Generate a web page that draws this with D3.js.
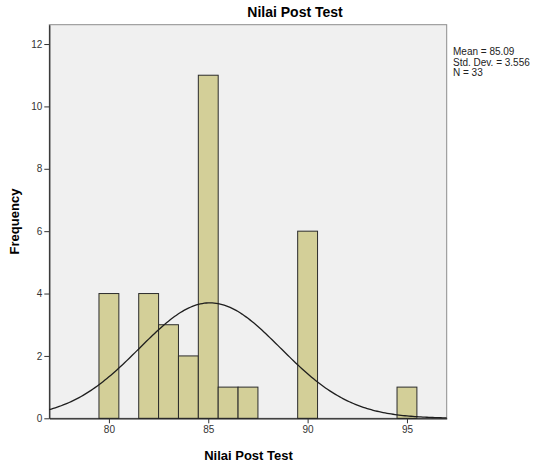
<!DOCTYPE html>
<html>
<head>
<meta charset="utf-8">
<script src="https://cdn.jsdelivr.net/npm/d3@7"></script>
<style>
  body { margin: 0; background: #fff; }
  text { font-family: Arial, "Liberation Sans", sans-serif; }
</style>
</head>
<body>
<div id="chart"></div>
<script>
// histogram bins (centre value, frequency), bin width 1
const binCenters = [80, 82, 83, 84, 85, 86, 87, 90, 95];
const frequencies = [4, 4, 3, 2, 11, 1, 1, 6, 1];
const xTicks = [80, 85, 90, 95];
const yTicks = [0, 2, 4, 6, 8, 10, 12];
const stats = { mean: 85.09, sd: 3.556, n: 33 };
const statLines = ['Mean = 85.09', 'Std. Dev. = 3.556', 'N = 33'];

const width = 535, height = 468;
const plotLeft = 49.3, plotRight = 446.7, plotTop = 24.7, plotBottom = 418.3;

const svg = d3.select('#chart').append('svg')
    .attr('width', width)
    .attr('height', height);

const x = d3.scaleLinear().domain([77, 97]).range([plotLeft, plotRight]);
const y = d3.scaleLinear().domain([0, 12.62]).range([plotBottom, plotTop]);

// plot background
svg.append('rect')
    .attr('x', plotLeft).attr('y', plotTop)
    .attr('width', plotRight - plotLeft).attr('height', plotBottom - plotTop)
    .attr('fill', '#f0f0f0')
    .attr('stroke', '#8c8c8c')
    .attr('stroke-width', 1);

// bars
svg.selectAll('rect.bar')
    .data(binCenters.map((c, i) => ({ c, f: frequencies[i] })))
    .enter()
    .append('rect')
    .attr('class', 'bar')
    .attr('x', d => x(d.c - 0.5))
    .attr('y', d => y(d.f))
    .attr('width', d => x(d.c + 0.5) - x(d.c - 0.5))
    .attr('height', d => y(0) - y(d.f))
    .attr('fill', '#d3cf98')
    .attr('stroke', '#2b2b2b')
    .attr('stroke-width', 1);

// normal curve scaled to counts
const pdf = v => stats.n * Math.exp(-0.5 * Math.pow((v - stats.mean) / stats.sd, 2)) / (stats.sd * Math.sqrt(2 * Math.PI));
const curveX = d3.range(77, 97.001, 0.1);
svg.append('path')
    .datum(curveX)
    .attr('fill', 'none')
    .attr('stroke', '#1e1e1e')
    .attr('stroke-width', 1.3)
    .attr('d', d3.line().x(d => x(d)).y(d => y(pdf(d))));

// axes
const xAxis = svg.append('g')
    .attr('transform', `translate(0,${plotBottom})`)
    .call(d3.axisBottom(x).tickValues(xTicks).tickSize(5).tickPadding(3).tickSizeOuter(0));
const yAxis = svg.append('g')
    .attr('transform', `translate(${plotLeft},0)`)
    .call(d3.axisLeft(y).tickValues(yTicks).tickSize(5).tickPadding(2).tickSizeOuter(0));

[xAxis, yAxis].forEach(g => {
    g.select('.domain').attr('stroke', '#222').attr('stroke-width', 1.2);
    g.selectAll('.tick line').attr('stroke', '#333');
    g.selectAll('.tick text')
        .attr('fill', '#333')
        .attr('font-size', '10px')
        .attr('font-family', 'Arial, "Liberation Sans", sans-serif');
});

// title and axis labels
svg.append('text')
    .attr('x', 295).attr('y', 17)
    .attr('text-anchor', 'middle')
    .attr('font-size', '14px')
    .attr('font-weight', 'bold')
    .text('Nilai Post Test');

svg.append('text')
    .attr('x', 248.5).attr('y', 460)
    .attr('text-anchor', 'middle')
    .attr('font-size', '13px')
    .attr('font-weight', 'bold')
    .text('Nilai Post Test');

svg.append('text')
    .attr('transform', `translate(19,${(plotTop + plotBottom) / 2}) rotate(-90)`)
    .attr('text-anchor', 'middle')
    .attr('font-size', '13px')
    .attr('font-weight', 'bold')
    .text('Frequency');

// statistics box
svg.selectAll('text.stat')
    .data(statLines)
    .enter()
    .append('text')
    .attr('class', 'stat')
    .attr('x', 453)
    .attr('y', (d, i) => 55 + i * 10.5)
    .attr('font-size', '10px')
    .attr('fill', '#222')
    .text(d => d);
</script>
</body>
</html>
